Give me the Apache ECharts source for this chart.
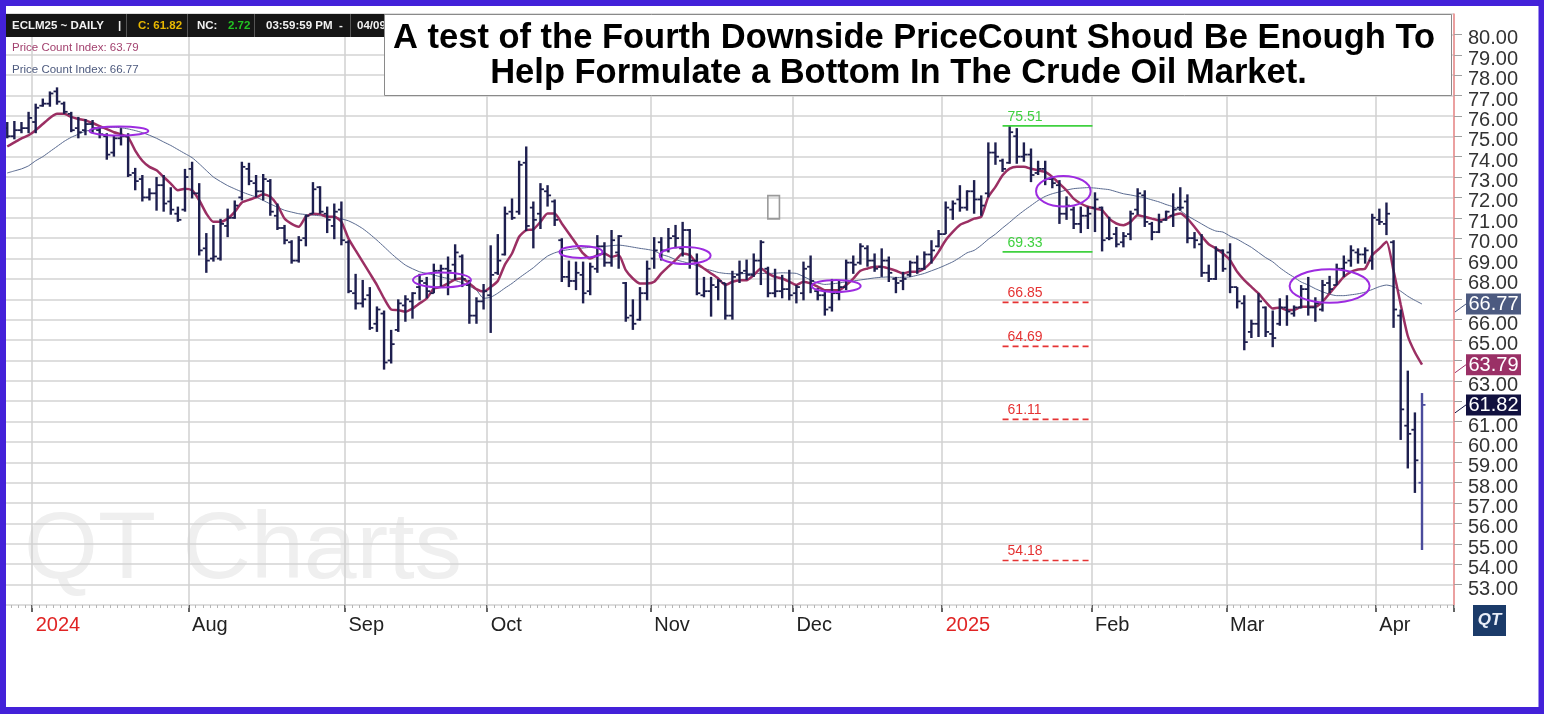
<!DOCTYPE html>
<html>
<head>
<meta charset="utf-8">
<script src="https://cdn.jsdelivr.net/npm/echarts@6/dist/echarts.min.js"></script>
<style>
html,body{margin:0;padding:0;background:#fff;}
#main{width:1544px;height:714px;}
</style>
</head>
<body>
<div id="main"></div>
<script>
// ECLM25 daily bars (open / high / low / close)
var opens = [
  75.4,75.0,75.3,75.4,75.7,76.5,76.6,77.2,76.6,76.1,
  75.4,75.3,75.6,75.3,75.0,74.2,74.9,75.0,73.2,72.9,
  72.0,72.2,72.6,71.8,71.2,71.4,73.4,72.2,69.5,69.0,
  69.0,70.6,71.0,72.0,73.4,72.7,72.3,72.8,71.1,70.5,
  69.8,68.9,70.0,71.2,72.5,71.2,70.6,71.4,69.8,67.3,
  66.8,67.2,65.8,66.3,64.0,65.5,66.7,66.9,67.6,67.8,
  67.3,68.4,68.5,68.7,69.1,67.7,66.2,66.9,67.2,68.3,
  69.2,71.3,71.3,73.7,71.5,71.2,72.3,71.8,69.9,68.1,
  67.9,68.2,67.4,68.5,69.6,68.8,69.3,67.8,66.2,66.0,
  67.3,69.0,69.8,69.4,70.1,69.5,70.4,68.9,67.2,67.4,
  67.6,67.8,66.2,68.2,68.4,68.2,68.9,68.5,67.3,67.4,
  67.5,67.3,67.3,68.6,67.4,67.2,66.6,67.3,67.6,68.8,
  68.8,69.5,68.9,68.6,68.9,68.0,67.9,68.2,68.8,68.5,
  69.2,69.6,70.2,71.4,71.9,71.5,72.3,71.9,72.2,74.2,
  73.8,73.7,75.0,74.0,74.1,73.2,73.4,72.9,72.6,71.2,
  71.4,70.7,71.1,71.5,71.5,70.0,70.2,69.8,70.2,71.4,
  72.1,70.7,70.3,70.9,71.1,71.5,71.8,70.0,69.7,68.3,
  68.0,69.4,69.3,67.6,66.8,65.4,65.8,66.6,65.3,65.8,
  66.6,66.3,66.6,67.5,66.6,66.5,67.8,67.7,68.5,68.9,
  69.3,69.2,68.9,70.9,70.7,69.8,66.2,60.8,60.6,58.0
];
var highs = [
  75.7,75.75,75.7,76.2,76.6,76.85,77.2,77.4,76.7,76.2,
  75.95,75.85,75.8,75.45,75.15,75.05,75.4,75.15,73.45,73.1,
  72.45,73.0,73.1,72.5,71.55,73.4,73.75,72.7,70.25,70.65,
  70.95,71.45,71.85,73.75,73.7,73.1,73.15,72.9,71.7,70.65,
  69.9,70.1,71.15,72.75,72.55,71.55,71.7,71.8,69.9,68.25,
  67.95,67.6,66.65,66.45,65.5,67.0,67.2,67.35,68.25,68.1,
  68.75,68.7,69.1,69.7,69.2,67.95,67.1,67.75,69.65,70.2,
  71.55,71.95,73.8,74.5,71.8,72.7,72.6,71.9,70.0,68.9,
  68.85,68.85,68.8,70.15,69.8,70.4,70.15,67.85,67.0,67.6,
  68.9,70.05,70.05,70.5,70.65,70.8,70.45,69.25,68.1,68.1,
  68.0,67.8,68.4,68.9,68.95,69.25,69.9,68.6,68.5,68.2,
  68.45,67.7,68.85,69.15,67.55,67.45,68.0,67.95,68.95,69.15,
  69.75,69.65,69.25,69.5,69.1,68.1,68.35,68.9,69.15,69.35,
  69.9,70.4,71.8,71.85,72.6,72.35,72.85,72.1,74.7,74.7,
  73.9,75.51,75.4,74.7,74.4,73.8,73.8,73.0,72.85,72.05,
  71.55,71.55,71.55,72.25,71.55,71.05,70.55,70.3,71.35,72.45,
  72.35,70.8,71.2,71.35,72.2,72.5,72.15,70.3,70.2,68.7,
  69.6,69.45,69.75,67.6,67.2,66.0,67.3,66.65,66.45,67.05,
  67.2,66.7,67.7,68.1,67.1,67.95,68.15,68.75,69.15,69.65,
  69.5,69.55,71.2,71.45,71.75,69.9,66.5,63.5,61.45,62.4
];
var lows = [
  74.9,74.85,75.15,75.15,75.15,76.45,76.45,76.55,76.1,75.2,
  74.9,75.05,75.15,74.9,73.85,74.0,74.55,73.0,72.35,71.8,
  71.85,71.35,71.3,71.15,70.8,71.3,71.95,69.15,68.3,68.85,
  68.9,70.05,70.95,71.85,72.6,72.0,71.85,71.1,70.4,69.7,
  68.75,68.8,69.6,71.2,71.2,70.25,69.95,69.65,67.3,66.5,
  66.6,65.5,65.4,63.55,63.85,65.4,65.9,66.05,66.95,67.05,
  67.3,67.6,67.2,67.95,67.6,65.8,65.8,66.5,65.35,68.2,
  69.15,70.9,71.15,70.35,69.5,70.45,71.55,70.6,67.85,67.6,
  67.45,66.8,67.2,68.3,68.6,68.6,68.5,65.9,65.5,65.95,
  66.95,68.5,68.9,69.3,69.5,69.1,68.5,67.2,67.1,66.15,
  66.95,66.0,66.0,67.8,67.95,68.1,67.7,67.1,67.1,67.05,
  66.95,66.8,66.95,67.3,66.95,66.2,66.4,66.95,67.45,68.25,
  68.7,68.6,68.35,68.1,67.85,67.3,67.45,68.1,68.25,68.45,
  68.75,69.55,70.2,70.9,71.3,71.35,71.2,71.1,72.0,73.6,
  73.25,73.65,73.65,73.75,72.75,73.1,72.6,72.45,70.7,70.9,
  70.45,70.25,70.45,70.3,69.35,69.9,69.55,69.55,69.9,71.15,
  70.55,69.9,70.25,70.85,70.55,71.35,69.75,69.5,68.1,67.85,
  67.95,68.35,67.3,66.55,64.5,65.1,65.15,65.15,64.65,65.7,
  65.7,66.15,66.55,66.2,65.9,66.4,67.3,67.7,68.1,68.6,
  68.75,68.75,68.45,70.65,70.15,65.6,60.1,58.7,57.5,54.7
];
var closes = [
  75.0,75.3,75.4,75.9,76.4,76.6,77.1,76.7,76.2,75.3,
  75.2,75.6,75.4,75.1,74.1,74.9,75.0,73.1,72.8,72.0,
  72.2,72.6,71.7,71.4,70.9,73.0,72.2,69.4,68.9,69.1,
  70.7,71.0,71.6,73.5,72.8,72.3,72.9,71.3,70.5,69.9,
  68.9,69.9,71.1,72.4,71.3,70.9,71.3,69.9,67.4,66.8,
  67.0,65.6,66.5,63.9,64.8,66.8,67.0,67.3,67.9,67.4,
  68.4,68.5,68.4,69.3,68.0,66.2,66.9,67.4,68.2,68.9,
  71.2,71.0,73.6,70.6,70.9,72.4,72.1,70.9,68.1,67.9,
  68.3,67.3,68.6,69.6,68.8,69.9,70.1,66.1,65.8,67.3,
  68.5,69.4,69.4,70.0,70.0,70.4,68.9,67.3,67.4,67.7,
  67.9,66.2,68.1,68.3,68.2,68.9,69.8,67.3,67.4,67.5,
  67.2,67.6,68.5,67.9,67.2,66.5,67.3,67.6,68.8,68.7,
  69.6,68.9,68.5,68.9,68.3,67.8,68.0,68.8,68.5,69.2,
  69.4,70.2,71.5,71.7,71.5,72.3,71.9,71.6,74.2,74.0,
  73.4,75.2,74.0,74.1,73.1,73.4,72.9,72.7,71.2,71.6,
  70.7,71.1,71.2,71.9,69.9,70.0,69.7,70.1,71.2,72.2,
  70.8,70.3,70.8,71.3,71.4,71.5,70.0,69.9,68.3,68.0,
  69.4,68.5,67.6,66.9,64.9,65.8,66.9,65.4,65.1,66.6,
  66.4,66.6,67.5,66.6,66.8,67.7,67.5,68.5,68.8,69.4,
  69.2,69.4,71.0,70.8,71.2,66.5,61.6,60.4,59.1,61.82
];
// Price Count Index lines, read bar by bar
var pciFast = [
  74.5,74.7,74.9,75.05,75.3,75.6,75.9,76.1,76.1,75.95,
  75.85,75.78,75.65,75.5,75.35,75.2,75.1,74.95,74.3,73.8,
  73.5,73.33,73.0,72.68,72.35,72.43,72.35,71.86,71.21,70.8,
  70.8,70.96,71.29,71.75,71.88,72.0,72.16,72.03,71.62,70.96,
  70.7,70.56,71.05,71.2,71.18,71.05,71.05,70.8,69.98,69.4,
  68.84,68.27,67.7,67.04,66.5,66.47,66.39,66.55,66.8,67.04,
  67.53,67.61,67.78,67.97,68.02,67.78,67.5,67.38,67.6,67.9,
  68.7,69.25,70.07,70.39,70.43,70.8,71.21,71.21,70.72,70.23,
  69.74,69.25,69.0,69.17,69.25,69.08,69.17,68.43,68.02,67.78,
  67.78,67.86,68.27,68.6,68.92,69.25,69.17,68.76,68.51,68.27,
  68.02,67.7,67.86,67.94,67.94,68.19,68.51,68.27,68.1,68.02,
  67.86,67.7,67.86,67.78,67.62,67.45,67.45,67.45,67.7,68.02,
  68.4,68.51,68.6,68.6,68.51,68.4,68.27,68.35,68.35,68.51,
  68.84,69.33,69.9,70.31,70.65,70.8,70.96,71.05,72.03,72.52,
  73.09,73.41,73.5,73.5,73.41,73.33,73.25,73.0,72.68,72.35,
  71.94,71.7,71.54,71.45,71.37,70.96,70.72,70.64,70.8,71.13,
  71.05,70.96,70.88,70.96,71.13,71.21,70.96,70.55,70.1,69.7,
  69.5,69.25,68.92,68.35,67.94,67.61,67.29,66.88,66.55,66.6,
  66.47,66.47,66.63,66.63,66.63,66.88,67.29,67.7,68.1,68.35,
  68.46,68.51,69.17,69.49,69.82,68.4,66.75,65.2,64.4,63.79
];
var pciSlow = [
  73.2,73.3,73.4,73.55,73.8,74.0,74.25,74.5,74.75,74.95,
  75.1,75.25,75.32,75.38,75.42,75.44,75.42,75.36,75.28,75.18,
  75.05,74.9,74.72,74.55,74.35,74.15,73.95,73.65,73.32,73.0,
  72.78,72.58,72.42,72.27,72.14,72.02,71.85,71.68,71.52,71.37,
  71.28,71.2,71.16,71.13,71.1,71.07,71.05,70.95,70.85,70.68,
  70.47,70.2,69.9,69.58,69.25,68.95,68.68,68.5,68.35,68.27,
  68.19,68.1,68.02,67.92,67.81,67.65,67.45,67.05,67.1,67.3,
  67.55,67.78,68.05,68.3,68.55,68.85,69.12,69.28,69.38,69.44,
  69.48,69.52,69.55,69.57,69.6,69.63,69.66,69.62,69.56,69.5,
  69.45,69.38,69.2,69.1,68.95,68.85,68.76,68.65,68.51,68.42,
  68.32,68.27,68.25,68.25,68.27,68.27,68.27,68.27,68.28,68.3,
  68.29,68.27,68.12,67.95,67.8,67.73,67.76,67.8,67.86,67.9,
  67.95,68.0,68.05,68.08,68.1,68.07,68.08,68.1,68.18,68.27,
  68.4,68.53,68.68,68.84,69.05,69.28,69.4,69.65,69.95,70.2,
  70.5,70.78,71.08,71.35,71.6,71.85,72.05,72.18,72.27,72.36,
  72.43,72.46,72.48,72.46,72.42,72.38,72.28,72.18,72.12,72.05,
  71.98,71.88,71.78,71.65,71.54,71.35,71.1,70.9,70.7,70.5,
  70.35,70.3,70.1,69.95,69.75,69.55,69.3,69.05,68.84,68.55,
  68.3,68.08,67.85,67.7,67.52,67.37,67.25,67.18,67.18,67.22,
  67.27,67.35,67.48,67.62,67.7,67.62,67.4,67.15,66.95,66.77
];
var monthLabels = ['2024', 'Aug', 'Sep', 'Oct', 'Nov', 'Dec', '2025', 'Feb', 'Mar', 'Apr'];
var yearLabels = ['2024', '2025'];
var levelValues = [75.51, 69.33, 66.85, 64.69, 61.11, 54.18];
var levelIsTarget = [true, true, false, false, false, false];
var tagValues = [66.77, 63.79, 61.82];
var tagColors = ['#4c5a80', '#9a3066', '#11113f'];

// trading days (weekends and exchange holidays left out), plus a few empty days on the right
var holidays = ['2024-07-04', '2024-09-02', '2024-11-28', '2024-12-25', '2025-01-01', '2025-01-20', '2025-02-17'];
var dates = [];
var d = new Date(Date.UTC(2024, 5, 25));
while (dates.length < 204) {
  var wd = d.getUTCDay();
  var s = d.toISOString().slice(0, 10);
  if (wd !== 0 && wd !== 6 && holidays.indexOf(s) < 0) dates.push(s);
  d.setUTCDate(d.getUTCDate() + 1);
}
var monthStarts = [];
for (var i = 1; i < dates.length; i++) {
  if (dates[i].slice(5, 7) !== dates[i - 1].slice(5, 7)) monthStarts.push(i);
}
function isMonthStart(idx) { return monthStarts.indexOf(idx) >= 0; }

var bars = [];
for (var k = 0; k < opens.length; k++) bars.push([k, opens[k], highs[k], lows[k], closes[k]]);

// hand drawn rings on the chart: centre as [bar index, price], radii in px
var ringCentres = [[15.7, 75.26], [61.15, 67.95], [80.7, 69.32], [95.35, 69.15], [116.6, 67.65], [148.55, 72.3], [186.0, 67.65]];
var ringRadii = [[29.5, 4.5], [29, 7.5], [21.5, 6], [25.5, 8.5], [24.5, 6], [27.3, 15.3], [40, 16.7]];

var FONT = "'Liberation Sans', Arial, sans-serif";
var chart = echarts.init(document.getElementById('main'));

function renderBar(params, api) {
  var i = api.value(0);
  var pO = api.coord([i, api.value(1)]);
  var pH = api.coord([i, api.value(2)]);
  var pL = api.coord([i, api.value(3)]);
  var pC = api.coord([i, api.value(4)]);
  var x = pH[0];
  var color = i === opens.length - 1 ? '#4b4c9c' : '#1e1f4f';
  return {
    type: 'group',
    children: [
      {type: 'line', shape: {x1: x, y1: pH[1], x2: x, y2: pL[1]}, style: {stroke: color, lineWidth: 2.4}},
      {type: 'line', shape: {x1: x - 3.5, y1: pO[1], x2: x, y2: pO[1]}, style: {stroke: color, lineWidth: 1.8}},
      {type: 'line', shape: {x1: x, y1: pC[1], x2: x + 3.5, y2: pC[1]}, style: {stroke: color, lineWidth: 1.8}}
    ]
  };
}

function renderLevel(params, api) {
  var v = api.value(1);
  var a = api.coord([140, v]);
  var b = api.coord([152, v]);
  var bw = api.size([1, 0])[0];
  var up = levelIsTarget[params.dataIndex];
  var color = up ? '#3fd13f' : '#e53333';
  return {
    type: 'group',
    children: [
      {type: 'line', shape: {x1: a[0], y1: a[1], x2: b[0] + 0.65 * bw, y2: b[1]},
        style: {stroke: color, lineWidth: 1.6, lineDash: up ? null : [6, 4]}},
      {type: 'text', x: a[0] + 5, y: a[1] - 9,
        style: {text: v.toFixed(2), fill: color, font: '14px ' + FONT, textVerticalAlign: 'middle'}}
    ]
  };
}

function renderRing(params, api) {
  var idx = api.value(0);
  var base = Math.floor(idx);
  var p = api.coord([base, api.value(1)]);
  var bw = api.size([1, 0])[0];
  var cx = p[0] + (idx - base) * bw;
  var cy = p[1];
  var r = ringRadii[params.dataIndex];
  var path = 'M' + (cx - r[0]) + ' ' + cy +
    ' A' + r[0] + ' ' + r[1] + ' 0 1 0 ' + (cx + r[0]) + ' ' + cy +
    ' A' + r[0] + ' ' + r[1] + ' 0 1 0 ' + (cx - r[0]) + ' ' + cy + ' Z';
  return {type: 'path', shape: {pathData: path}, style: {fill: 'none', stroke: '#9d2be0', lineWidth: 2}};
}

function renderTag(params, api) {
  var cs = params.coordSys;
  var y = api.coord([0, api.value(1)])[1];
  var x0 = cs.x + cs.width;
  var col = tagColors[params.dataIndex];
  return {
    type: 'group',
    children: [
      {type: 'line', shape: {x1: x0 + 1, y1: y + 8, x2: x0 + 12, y2: y}, style: {stroke: col, lineWidth: 1}},
      {type: 'rect', shape: {x: x0 + 12, y: y - 10.5, width: 55, height: 21}, style: {fill: col}},
      {type: 'text', x: x0 + 39.5, y: y + 0.5,
        style: {text: api.value(1).toFixed(2), fill: '#fff', font: '20px ' + FONT, textAlign: 'center', textVerticalAlign: 'middle'}}
    ]
  };
}

function renderNote(params, api) {
  var p = api.coord([108, 71.52]);
  var bw = api.size([1, 0])[0];
  return {type: 'rect', shape: {x: p[0] - 0.2 * bw - 5.8, y: p[1] - 11.6, width: 11.6, height: 23.3},
    style: {fill: 'none', stroke: '#9a9a9a', lineWidth: 1.6}};
}

var header = [
  {type: 'rect', shape: {x: 6, y: 14, width: 380, height: 23}, style: {fill: '#161616'}},
  {type: 'rect', shape: {x: 126, y: 14, width: 1, height: 23}, style: {fill: '#555'}},
  {type: 'rect', shape: {x: 187, y: 14, width: 1, height: 23}, style: {fill: '#555'}},
  {type: 'rect', shape: {x: 254, y: 14, width: 1, height: 23}, style: {fill: '#555'}},
  {type: 'rect', shape: {x: 350, y: 14, width: 1, height: 23}, style: {fill: '#555'}},
  {type: 'text', x: 12, y: 25.5, style: {text: 'ECLM25 ~ DAILY', fill: '#f2f2f2', font: 'bold 11.5px ' + FONT, textVerticalAlign: 'middle'}},
  {type: 'text', x: 118, y: 25.5, style: {text: '|', fill: '#f2f2f2', font: 'bold 11.5px ' + FONT, textVerticalAlign: 'middle'}},
  {type: 'text', x: 138, y: 25.5, style: {text: 'C: 61.82', fill: '#e8b800', font: 'bold 11.5px ' + FONT, textVerticalAlign: 'middle'}},
  {type: 'text', x: 197, y: 25.5, style: {text: 'NC:', fill: '#f2f2f2', font: 'bold 11.5px ' + FONT, textVerticalAlign: 'middle'}},
  {type: 'text', x: 228, y: 25.5, style: {text: '2.72', fill: '#22c322', font: 'bold 11.5px ' + FONT, textVerticalAlign: 'middle'}},
  {type: 'text', x: 266, y: 25.5, style: {text: '03:59:59 PM', fill: '#f2f2f2', font: 'bold 11.5px ' + FONT, textVerticalAlign: 'middle'}},
  {type: 'text', x: 339, y: 25.5, style: {text: '-', fill: '#f2f2f2', font: 'bold 11.5px ' + FONT, textVerticalAlign: 'middle'}},
  {type: 'text', x: 357, y: 25.5, style: {text: '04/09', fill: '#f2f2f2', font: 'bold 11.5px ' + FONT, textVerticalAlign: 'middle'}},
  {type: 'text', x: 12, y: 47.5, style: {text: 'Price Count Index: 63.79', fill: '#a3426f', font: '11.5px ' + FONT, textVerticalAlign: 'middle'}},
  {type: 'text', x: 12, y: 69.5, style: {text: 'Price Count Index: 66.77', fill: '#4d5a7e', font: '11.5px ' + FONT, textVerticalAlign: 'middle'}}
];

var titleBox = [
  {type: 'rect', shape: {x: 384.5, y: 14.5, width: 1067, height: 81}, style: {fill: '#fff', stroke: '#8a8a8a', lineWidth: 1}},
  {type: 'text', x: 914, y: 38, style: {text: 'A test of the Fourth Downside PriceCount Shoud Be Enough To',
    fill: '#000', font: 'bold 34.5px ' + FONT, textAlign: 'center', textVerticalAlign: 'middle'}},
  {type: 'text', x: 898.5, y: 73, style: {text: 'Help Formulate a Bottom In The Crude Oil Market.',
    fill: '#000', font: 'bold 34.5px ' + FONT, textAlign: 'center', textVerticalAlign: 'middle'}}
];

var frame = [
  {type: 'rect', shape: {x: 0, y: 0, width: 1544, height: 6}, style: {fill: '#4321d9'}},
  {type: 'rect', shape: {x: 0, y: 0, width: 6, height: 714}, style: {fill: '#4321d9'}},
  {type: 'rect', shape: {x: 1538.5, y: 0, width: 5.5, height: 714}, style: {fill: '#4321d9'}},
  {type: 'rect', shape: {x: 0, y: 707, width: 1544, height: 7}, style: {fill: '#4321d9'}}
];

var logo = [
  {type: 'rect', shape: {x: 1473, y: 605, width: 33, height: 31}, style: {fill: '#1b3b69'}},
  {type: 'text', x: 1489.5, y: 620.5, style: {text: 'QT', fill: '#e8eef8', font: 'italic bold 17px ' + FONT, textAlign: 'center', textVerticalAlign: 'middle'}}
];

function addZ(list, z) { return list.map(function (e) { e.z = z; return e; }); }

var option = {
  animation: false,
  backgroundColor: '#fff',
  grid: {left: 3.7, right: 90, top: 14, bottom: 109},
  xAxis: [{
    type: 'category',
    data: dates,
    boundaryGap: true,
    axisLine: {show: false},
    axisTick: {show: true, interval: isMonthStart, length: 7, lineStyle: {color: '#333', width: 1.5}},
    axisLabel: {
      interval: isMonthStart,
      align: 'left',
      margin: 10,
      fontSize: 20,
      fontFamily: FONT,
      color: '#222',
      formatter: function (value, index) {
        var t = monthLabels[monthStarts.indexOf(index)] || '';
        return yearLabels.indexOf(t) >= 0 ? '{yr|' + t + '}' : t;
      },
      rich: {yr: {color: '#e02424', fontSize: 20, fontFamily: FONT}}
    },
    splitLine: {show: true, interval: isMonthStart, lineStyle: {color: '#d0d0d0', width: 1.5}}
  }, {
    type: 'category',
    data: dates,
    boundaryGap: true,
    position: 'bottom',
    offset: 0,
    axisLine: {show: false},
    axisTick: {show: true, interval: 0, length: 3, lineStyle: {color: '#b5b5b5', width: 1}},
    axisLabel: {show: false},
    splitLine: {show: false}
  }],
  yAxis: {
    type: 'value',
    position: 'right',
    min: 52,
    max: 81,
    interval: 1,
    axisLine: {show: true, lineStyle: {color: '#f08c8c', width: 1.5}},
    axisTick: {show: true, length: 8, lineStyle: {color: '#a0a0a0'}},
    axisLabel: {
      showMinLabel: false, showMaxLabel: false,
      margin: 14,
      formatter: function (v) { return '{p|' + v.toFixed(2) + '}'; },
      rich: {p: {fontSize: 20, fontFamily: FONT, color: '#333', padding: [9, 0, 0, 0]}}
    },
    splitLine: {show: true, lineStyle: {color: '#d3d3d3', width: 1.5}}
  },
  graphic: [].concat(
    addZ([{type: 'text', x: 24, y: 552, style: {text: 'QT Charts', fill: '#efefef', font: '95px ' + FONT, textVerticalAlign: 'middle'}}], -5),
    addZ(header, 50),
    addZ(titleBox, 50),
    addZ(logo, 50),
    addZ(frame, 200)
  ),
  series: [
    {type: 'line', name: 'Price Count Index 66.77', data: pciSlow, showSymbol: false, smooth: 0.2,
      lineStyle: {color: '#58698f', width: 1}, z: 3},
    {type: 'line', name: 'Price Count Index 63.79', data: pciFast, showSymbol: false, smooth: 0.2,
      lineStyle: {color: '#9b2f63', width: 2.5}, z: 4},
    {type: 'custom', name: 'ECLM25', renderItem: renderBar, data: bars,
      encode: {x: 0, y: [1, 2, 3, 4]}, z: 5},
    {type: 'custom', name: 'levels', renderItem: renderLevel,
      data: levelValues.map(function (v) { return [140, v]; }), encode: {x: 0, y: 1}, z: 6},
    {type: 'custom', name: 'rings', renderItem: renderRing, data: ringCentres, encode: {x: 0, y: 1}, z: 7},
    {type: 'custom', name: 'note', renderItem: renderNote, data: [[108, 71.52]], encode: {x: 0, y: 1}, z: 7},
    {type: 'custom', name: 'tags', renderItem: renderTag, clip: false,
      data: tagValues.map(function (v) { return [0, v]; }), encode: {x: 0, y: 1}, z: 20}
  ]
};
chart.setOption(option);
</script>
</body>
</html>
